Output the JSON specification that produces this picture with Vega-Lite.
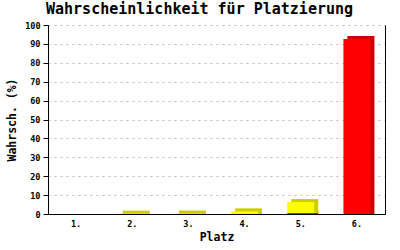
{
  "$schema": "https://vega.github.io/schema/vega-lite/v6.json",
  "width": 337,
  "height": 189,
  "autosize": {"type": "none"},
  "padding": {"left": 48, "top": 25, "right": 15, "bottom": 36},
  "background": "white",
  "title": {
    "text": "Wahrscheinlichkeit für Platzierung",
    "font": "DejaVu Sans Mono",
    "fontSize": 15,
    "fontWeight": "bold",
    "color": "black",
    "anchor": "middle",
    "dx": -17,
    "offset": 4
  },
  "data": {
    "values": [
      {"platz": "2.", "serie": "gelb", "w0": 0, "w1": 0.2},
      {"platz": "3.", "serie": "gelb", "w0": 0, "w1": 0.2},
      {"platz": "4.", "serie": "gelb", "w0": 0, "w1": 1.4},
      {"platz": "5.", "serie": "rot", "w0": 0, "w1": 0.5},
      {"platz": "5.", "serie": "gelb", "w0": 0.5, "w1": 6.3},
      {"platz": "6.", "serie": "rot", "w0": 0, "w1": 92.6}
    ]
  },
  "encoding": {
    "x": {
      "field": "platz",
      "type": "nominal",
      "scale": {"domain": ["1.", "2.", "3.", "4.", "5.", "6."], "paddingInner": 0, "paddingOuter": 0},
      "axis": {
        "title": "Platz",
        "titleFont": "DejaVu Sans Mono",
        "titleFontSize": 11.5,
        "titleFontWeight": "bold",
        "titleColor": "black",
        "titlePadding": 4,
        "labelAngle": 0,
        "ticks": false,
        "labelFont": "DejaVu Sans Mono",
        "labelFontSize": 8.5,
        "labelFontWeight": "bold",
        "labelColor": "black",
        "labelPadding": 5,
        "domainColor": "black",
        "grid": false
      }
    }
  },
  "layer": [
    {
      "mark": {"type": "bar", "width": {"band": 0.48}, "xOffset": 4, "x2Offset": 4, "yOffset": -3},
      "encoding": {
        "y": {
          "field": "w1",
          "type": "quantitative",
          "scale": {"domain": [0, 100], "nice": false},
          "axis": {
            "title": "Wahrsch. (%)",
            "titleFont": "DejaVu Sans Mono",
            "titleFontSize": 11.5,
            "titleFontWeight": "bold",
            "titleColor": "black",
            "titlePadding": 7,
            "values": [0, 10, 20, 30, 40, 50, 60, 70, 80, 90, 100],
            "labelFont": "DejaVu Sans Mono",
            "labelFontSize": 8.5,
            "labelFontWeight": "bold",
            "labelColor": "black",
            "labelPadding": 3,
            "tickColor": "black",
            "tickSize": 5,
            "domainColor": "black",
            "grid": true,
            "gridColor": "#bbbbbb",
            "gridDash": [2, 4]
          }
        },
        "y2": {"field": "w0"},
        "color": {
          "field": "serie",
          "type": "nominal",
          "scale": {"domain": ["rot", "gelb"], "range": ["#cc0000", "#cccc00"]},
          "legend": null
        }
      }
    },
    {
      "mark": {"type": "bar", "width": {"band": 0.48}},
      "encoding": {
        "y": {
          "field": "w1",
          "type": "quantitative",
          "scale": {"domain": [0, 100], "nice": false},
          "axis": {
            "orient": "right",
            "labels": false,
            "ticks": false,
            "grid": false,
            "title": null,
            "domainColor": "black"
          }
        },
        "y2": {"field": "w0"},
        "color": {
          "field": "serie",
          "type": "nominal",
          "scale": {"domain": ["rot", "gelb"], "range": ["#ff0000", "#ffff00"]},
          "legend": null
        }
      }
    }
  ],
  "resolve": {"scale": {"color": "independent"}, "axis": {"y": "independent"}},
  "config": {"view": {"stroke": null}}
}
